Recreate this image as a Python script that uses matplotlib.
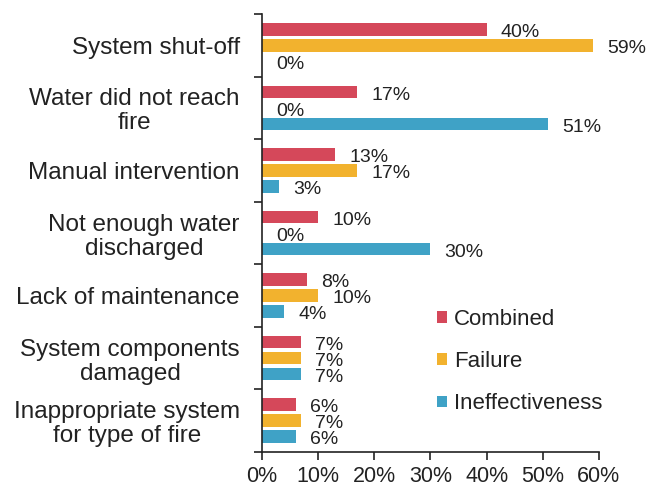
import matplotlib.pyplot as plt
import numpy as np

plt.rcParams['font.family'] = ['Liberation Sans', 'DejaVu Sans']

categories = ['System shut-off', 'Water did not reach\nfire', 'Manual intervention',
              'Not enough water\ndischarged', 'Lack of maintenance',
              'System components\ndamaged', 'Inappropriate system\nfor type of fire']
combined = [40, 17, 13, 10, 8, 7, 6]
failure = [59, 0, 17, 0, 10, 7, 7]
ineffective = [0, 51, 3, 30, 4, 7, 6]
series = ['Combined', 'Failure', 'Ineffectiveness']
colors = ['#d5485a', '#f2b22e', '#3fa2c6']
xticks = [0, 10, 20, 30, 40, 50, 60]

fig = plt.figure(figsize=(6.51, 4.87), dpi=100)
ax = fig.add_axes([0.4025, 0.072, 0.5175, 0.899])

txt = '#222222'
y = np.arange(len(categories))
step = 0.256
h = 0.2
for k, (vals, name, c) in enumerate(zip([combined, failure, ineffective], series, colors)):
    pos = y + (k - 1) * step
    ax.barh(pos, vals, height=h, color=c, label=name)
    for p, v in zip(pos, vals):
        ax.text(v + 2.5, p + 0.05, f'{v}%', va='center', ha='left', fontsize=14, color=txt)

ax.set_ylim(len(categories) - 0.5, -0.5)
ax.set_xlim(0, 60)
ax.set_yticks(y)
ax.set_yticklabels(categories, fontsize=17.5, color=txt, ha='right',
                   multialignment='center', linespacing=1.12)
ax.tick_params(axis='y', length=0, pad=16)
ax.set_yticks(np.arange(len(categories) + 1) - 0.5, minor=True)
ax.tick_params(axis='y', which='minor', length=6, width=1.2, color='#222222')
ax.set_xticks(xticks)
ax.set_xticklabels([f'{t}%' for t in xticks], fontsize=15.5, color=txt)
ax.tick_params(axis='x', length=6, width=1.2, color='#222222', pad=4)
for s in ['top', 'right']:
    ax.spines[s].set_visible(False)
for s in ['left', 'bottom']:
    ax.spines[s].set_linewidth(1.2)
    ax.spines[s].set_color('#222222')

leg = ax.legend(loc='lower left', bbox_to_anchor=(0.46, 0.04), frameon=False,
                fontsize=16, handlelength=0.45, handleheight=0.45, handletextpad=0.3,
                labelspacing=0.95, labelcolor=txt)

fig.savefig('out.png', dpi=100)
